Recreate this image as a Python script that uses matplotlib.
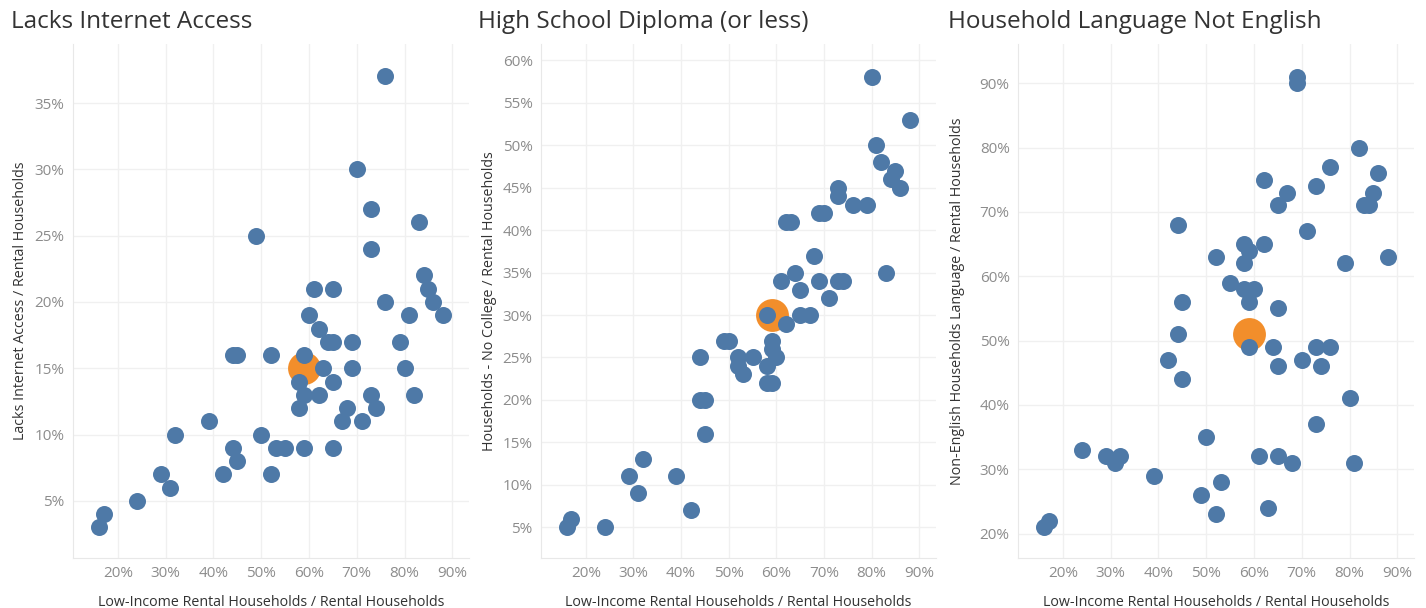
import matplotlib.pyplot as plt
from matplotlib.ticker import FuncFormatter, MultipleLocator

# ---- data (percent) ----
internet_x = [76, 70, 73, 83, 49, 73, 84, 85, 86, 88, 76, 81, 61, 65, 60, 62, 64, 65,
              69, 79, 44, 45, 52, 59, 63, 69, 80, 58, 65, 59, 62, 73, 82, 58, 68, 74,
              67, 71, 39, 32, 50, 44, 53, 55, 59, 65, 45, 29, 42, 52, 31, 24, 17, 16]
internet_y = [37, 30, 27, 26, 25, 24, 22, 21, 20, 19, 20, 19, 21, 21, 19, 18, 17, 17,
              17, 17, 16, 16, 16, 16, 15, 15, 15, 14, 14, 13, 13, 13, 13, 12, 12, 12,
              11, 11, 11, 10, 10, 9, 9, 9, 9, 9, 8, 7, 7, 7, 6, 5, 4, 3]

school_x = [80, 88, 81, 82, 85, 84, 86, 73, 73, 76, 79, 69, 70, 62, 63, 68, 64, 83,
            61, 69, 73, 74, 65, 71, 58, 65, 67, 62, 49, 50, 59, 59, 44, 52, 55, 60,
            52, 58, 53, 58, 59, 44, 45, 45, 32, 29, 39, 31, 42, 17, 16, 24]
school_y = [58, 53, 50, 48, 47, 46, 45, 45, 44, 43, 43, 42, 42, 41, 41, 37, 35, 35,
            34, 34, 34, 34, 33, 32, 30, 30, 30, 29, 27, 27, 27, 26, 25, 25, 25, 25,
            24, 24, 23, 22, 22, 20, 20, 16, 13, 11, 11, 9, 7, 6, 5, 5]

language_x = [69, 69, 82, 76, 86, 62, 73, 67, 85, 65, 83, 84, 44, 71, 58, 62, 59, 52,
              88, 58, 79, 55, 58, 60, 45, 59, 65, 44, 59, 64, 73, 76, 42, 70, 65, 74,
              45, 80, 73, 50, 24, 29, 32, 31, 61, 65, 68, 81, 39, 53, 49, 63, 52, 17, 16]
language_y = [91, 90, 80, 77, 76, 75, 74, 73, 73, 71, 71, 71, 68, 67, 65, 65, 64, 63,
              63, 62, 62, 59, 58, 58, 56, 56, 55, 51, 49, 49, 49, 49, 47, 47, 46, 46,
              44, 41, 37, 35, 33, 32, 32, 31, 32, 32, 31, 31, 29, 28, 26, 24, 23, 22, 21]

# highlighted average (orange)
avg_x = [59, 59, 59]
avg_y = [15, 30, 51]

titles = ["Lacks Internet Access", "High School Diploma (or less)",
          "Household Language Not English"]
ylabels = ["Lacks Internet Access / Rental Households",
           "Households - No College / Rental Households",
           "Non-English Households Language / Rental Households"]
xlabel = "Low-Income Rental Households / Rental Households"
ylims = [(0.7, 39.45), (1.4, 61.9), (16.2, 96.1)]
ysteps = [5, 5, 10]

BLUE = "#4e79a7"
ORANGE = "#f28e2b"
GRID = "#f0f0f0"

plt.rcParams["font.family"] = ["Open Sans", "DejaVu Sans"]

W, H = 1426, 608
fig = plt.figure(figsize=(W / 100, H / 100), dpi=100)

# panel boxes in pixels: left, right ; top/bottom shared
panels = [(73, 469), (541, 936), (1018, 1414)]
top, bottom = 44, 558
title_x = [11, 478, 948]
ylabel_x = [28, 497, 965]   # right edge of the rotated label

series = [(internet_x, internet_y), (school_x, school_y), (language_x, language_y)]
pct = FuncFormatter(lambda v, _: f"{v:.0f}%")

for i, (l, r) in enumerate(panels):
    ax = fig.add_axes([l / W, 1 - bottom / H, (r - l) / W, (bottom - top) / H])
    xs, ys = series[i]
    ax.scatter([avg_x[i]], [avg_y[i]], s=560, color=ORANGE, linewidths=0, zorder=2)
    ax.scatter(xs, ys, s=150, color=BLUE, linewidths=0, zorder=3)

    ax.set_xlim(10.6, 93.5)
    ax.set_ylim(*ylims[i])
    ax.yaxis.set_major_locator(MultipleLocator(ysteps[i]))
    ax.set_xticks(range(20, 100, 10))
    ax.xaxis.set_major_formatter(pct)
    ax.yaxis.set_major_formatter(pct)
    ax.grid(True, color=GRID, linewidth=1)
    ax.set_axisbelow(True)
    for s in ["top", "right"]:
        ax.spines[s].set_visible(False)
    for s in ["left", "bottom"]:
        ax.spines[s].set_color("#e8e8e8")
    ax.tick_params(length=0, labelsize=11, labelcolor="#8c8c8c", pad=6)
    ax.set_xlabel(xlabel, fontsize=10.3, color="#333333", labelpad=10)
    ax.set_ylabel(ylabels[i], fontsize=10.3, color="#333333")
    ax.yaxis.set_label_coords((ylabel_x[i] - l) / (r - l), 0.5)

    fig.text(title_x[i] / W, 1 - 22 / H, titles[i], fontsize=17.5, color="#333333",
             ha="left", va="center")

fig.savefig("out.png", dpi=100)
